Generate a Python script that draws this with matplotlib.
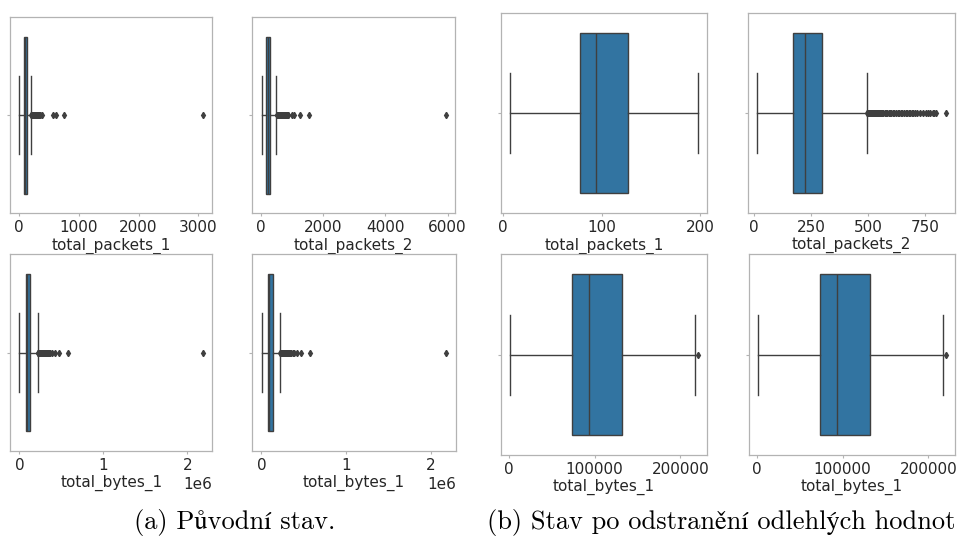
import matplotlib
matplotlib.use("Agg")
import matplotlib.pyplot as plt

W, H = 957, 536

BOX_COLOR = "#3274a1"
LINE_COLOR = "#3f3f3f"
SPINE_COLOR = "#b3b3b3"
TEXT_COLOR = "#262626"
FONT_SIZE = 11

# --- original data: five-number summaries and outliers -------------------
packets1_raw = dict(whislo=5, q1=77, med=95, q3=128, whishi=203)
packets1_raw_fliers = [206, 210, 214, 218, 223, 228, 233, 238, 244, 250, 256,
                       262, 268, 275, 282, 290, 298, 306, 315, 325, 336, 348,
                       357, 383, 572, 617, 755, 3083]

packets2_raw = dict(whislo=15, q1=170, med=222, q3=300, whishi=495)
packets2_raw_fliers = [500, 515, 530, 545, 560, 578, 596, 615, 634, 655, 676,
                       698, 720, 745, 770, 800, 830, 860, 880, 990, 1064, 1258,
                       1526, 5950]

bytes1_raw = dict(whislo=2000, q1=74000, med=93000, q3=133000, whishi=219000)
bytes1_raw_fliers = [222e3, 228e3, 235e3, 242e3, 250e3, 258e3, 267e3, 276e3,
                     286e3, 296e3, 307e3, 318e3, 330e3, 343e3, 356e3, 370e3,
                     385e3, 425e3, 473e3, 576e3, 2188e3]

# --- after removing outliers ---------------------------------------------
packets1_clean = dict(whislo=7, q1=78, med=94, q3=127, whishi=198)
packets1_clean_fliers = []

packets2_clean = dict(whislo=15, q1=169, med=222, q3=299, whishi=494)
packets2_clean_fliers = [496, 499, 502, 505, 508, 511, 515, 518, 522, 526, 530,
                         534, 538, 542, 547, 552, 557, 562, 567, 572, 578, 584,
                         590, 596, 602, 608, 615, 622, 629, 636, 643, 650, 657,
                         664, 671, 678, 684, 691, 698, 706, 713, 727, 741, 755,
                         763, 770, 782, 790, 796, 839]

bytes1_clean = dict(whislo=1500, q1=73500, med=93000, q3=132500, whishi=217500)
bytes1_clean_fliers = [220600]

# tick positions per variable
ticks_packets1_raw = [0, 1000, 2000, 3000]
ticks_packets2_raw = [0, 2000, 4000, 6000]
ticks_bytes_raw = [0, 1e6, 2e6]
ticks_packets1_clean = [0, 100, 200]
ticks_packets2_clean = [0, 250, 500, 750]
ticks_bytes_clean = [0, 100000, 200000]

# panel rectangles in pixels: (x0, y0, x1, y1), origin at top-left
panels = [
    ((10.3, 17.0, 212.3, 213.3), packets1_raw, packets1_raw_fliers,
     "total_packets_1", ticks_packets1_raw),
    ((252.3, 17.0, 455.3, 213.3), packets2_raw, packets2_raw_fliers,
     "total_packets_2", ticks_packets2_raw),
    ((500.7, 12.7, 707.3, 213.3), packets1_clean, packets1_clean_fliers,
     "total_packets_1", ticks_packets1_clean),
    ((748.0, 12.7, 955.0, 212.7), packets2_clean, packets2_clean_fliers,
     "total_packets_2", ticks_packets2_clean),
    ((10.3, 254.3, 212.3, 451.0), bytes1_raw, bytes1_raw_fliers,
     "total_bytes_1", ticks_bytes_raw),
    ((252.3, 254.3, 455.7, 451.0), bytes1_raw, bytes1_raw_fliers,
     "total_bytes_1", ticks_bytes_raw),
    ((500.7, 254.3, 707.3, 455.0), bytes1_clean, bytes1_clean_fliers,
     "total_bytes_1", ticks_bytes_clean),
    ((748.7, 254.3, 955.3, 455.0), bytes1_clean, bytes1_clean_fliers,
     "total_bytes_1", ticks_bytes_clean),
]

fig = plt.figure(figsize=(W / 100, H / 100), dpi=100)

for (x0, y0, x1, y1), summary, fliers, label, ticks in panels:
    ax = fig.add_axes([x0 / W, 1 - y1 / H, (x1 - x0) / W, (y1 - y0) / H])
    stats = [dict(summary, fliers=fliers, label="")]
    ax.bxp(stats, positions=[0], widths=0.8, capwidths=0.4,
           orientation="horizontal", patch_artist=True, manage_ticks=False,
           boxprops=dict(facecolor=BOX_COLOR, edgecolor=LINE_COLOR, linewidth=1.0),
           whiskerprops=dict(color=LINE_COLOR, linewidth=1.0),
           capprops=dict(color=LINE_COLOR, linewidth=1.0),
           medianprops=dict(color=LINE_COLOR, linewidth=1.0),
           flierprops=dict(marker="d", markersize=3.2, markerfacecolor=LINE_COLOR,
                           markeredgecolor=LINE_COLOR, linestyle="none"))
    ax.set_ylim(0.5, -0.5)
    ax.set_yticks([0], labels=[""])
    ax.set_xticks(ticks)
    ax.set_xlabel(label, fontsize=FONT_SIZE, color=TEXT_COLOR, labelpad=1.5)
    ax.tick_params(colors=SPINE_COLOR, labelcolor=TEXT_COLOR, labelsize=FONT_SIZE,
                   length=2.5, width=0.8, pad=2.5)
    ax.xaxis.get_offset_text().set_fontsize(FONT_SIZE)
    ax.xaxis.get_offset_text().set_color(TEXT_COLOR)
    for sp in ax.spines.values():
        sp.set_color(SPINE_COLOR)
        sp.set_linewidth(0.9)

caption_font = ["cmr10", "STIXGeneral", "DejaVu Serif"]
fig.text(235 / W, 1 - 529 / H, "(a) Původní stav.", ha="center", va="baseline",
         fontsize=19, family=caption_font, color="black")
fig.text(487 / W, 1 - 529 / H, "(b) Stav po odstranění odlehlých hodnot",
         ha="left", va="baseline", fontsize=19, family=caption_font, color="black")

fig.savefig("out.png", dpi=100)
